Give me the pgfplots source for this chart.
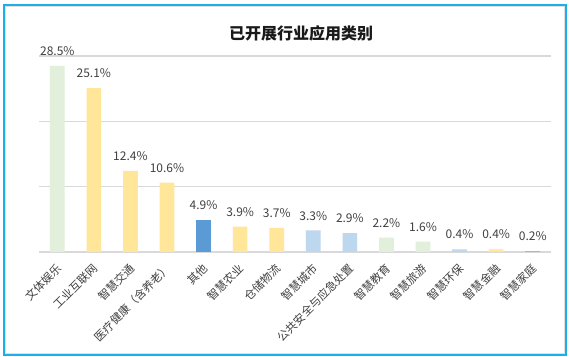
\documentclass[border=0pt]{standalone}
\usepackage{fontspec}
\setmainfont{Noto Sans CJK SC}
\usepackage{pgfplots}
\pgfplotsset{compat=1.18}
\definecolor{cgreen}{HTML}{E2EFDA}
\definecolor{cyellow}{HTML}{FFE699}
\definecolor{cblue}{HTML}{5B9BD5}
\definecolor{clblue}{HTML}{BDD7EE}
\definecolor{cmblue}{HTML}{9DB8DE}
\definecolor{framecol}{HTML}{1BAEE8}
\definecolor{gridcol}{HTML}{D9D9D9}
\definecolor{txt}{HTML}{404040}
\begin{document}
\begin{tikzpicture}
\useasboundingbox (0,0) rectangle (426.75pt,267.75pt);
\fill[white] (0,0) rectangle (426.75pt,267.75pt);
\draw[black!12, line width=0.75pt] (4.3pt,2.8pt) rectangle (423.2pt,262.6pt);
\draw[framecol, line width=1.5pt] (3pt,1.5pt) rectangle (424.5pt,264pt);
\node[font=\fontsize{12}{14}\selectfont\bfseries, text=black!90] at (225.75pt,243pt) {已开展行业应用类别};
\begin{axis}[
  at={(29.25pt,78.75pt)}, anchor=south west,
  scale only axis, width=384pt, height=147pt,
  xmin=-0.5, xmax=13.5, ymin=0, ymax=30,
  axis line style={draw=none},
  major tick length=0pt,
  ytick={0,10,20,30}, yticklabels={},
  ymajorgrids, grid style={gridcol, line width=0.9pt},
  xtick={0,...,13},
  xticklabels={文体娱乐,工业互联网,智慧交通,医疗健康（含养老）,其他,智慧农业,仓储物流,智慧城市,公共安全与应急处置,智慧教育,智慧旅游,智慧环保,智慧金融,智慧家庭},
  xticklabel style={font=\fontsize{8.5}{10}\selectfont, text=txt, inner sep=0pt, anchor=east, xshift=1.5pt, yshift=-11pt, rotate=45},
  ybar, bar width=11pt, bar shift=0pt,
  nodes near coords={\pgfmathprintnumber[fixed,fixed zerofill,precision=1,assume math mode=true]{\pgfplotspointmeta}\%},
  nodes near coords style={font=\fontsize{9}{10}\selectfont, text=txt, anchor=south, inner sep=0pt, yshift=7.5pt},
  clip=false,
]
\addplot[draw=none, fill=cgreen] coordinates {(0,28.5) (9,2.2) (10,1.6)};
\addplot[draw=none, fill=cyellow] coordinates {(1,25.1) (2,12.4) (3,10.6) (5,3.9) (6,3.7) (12,0.4)};
\addplot[draw=none, fill=cblue] coordinates {(4,4.9)};
\addplot[draw=none, fill=clblue] coordinates {(7,3.3) (8,2.9) (11,0.4)};
\addplot[draw=none, fill=cmblue] coordinates {(13,0.2)};
\end{axis}
\end{tikzpicture}
\end{document}
